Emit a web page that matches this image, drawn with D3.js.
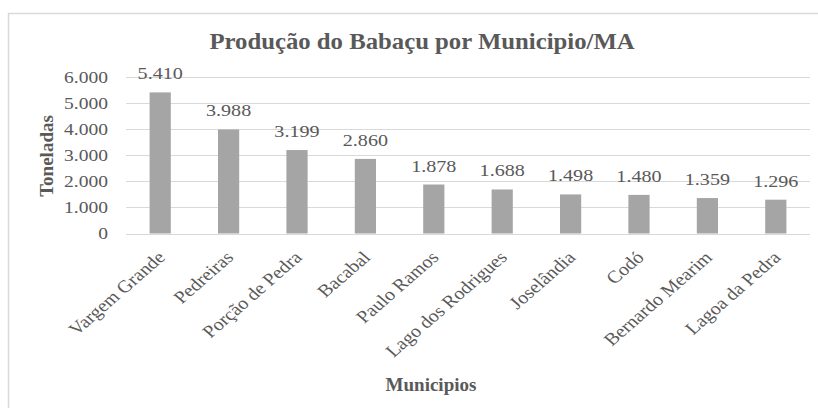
<!DOCTYPE html>
<html><head><meta charset="utf-8">
<script src="https://cdn.jsdelivr.net/npm/d3@7"></script>
<style>body{margin:0;background:#fff}svg{display:block}</style>
</head><body>
<svg id="c" width="818" height="408"></svg>
<script>
const categories = ["Vargem Grande","Pedreiras","Porção de Pedra","Bacabal","Paulo Ramos","Lago dos Rodrigues","Joselândia","Codó","Bernardo Mearim","Lagoa da Pedra"];
const values = [5410,3988,3199,2860,1878,1688,1498,1480,1359,1296];
const yTicks = [0,1000,2000,3000,4000,5000,6000];
const title = "Produção do Babaçu por Municipio/MA";
const xTitle = "Municipios";
const yTitle = "Toneladas";

const FF = "'Liberation Serif', 'Times New Roman', serif";
const SX = 1.22;
const svg = d3.select("#c");
const txt = "#595959";
const fmt = d => d3.format(",")(d).replace(/,/g, ".");

svg.append("rect").attr("x",8.5).attr("y",13.5).attr("width",830).attr("height",420)
  .attr("fill","#fff").attr("stroke","#d9d9d9").attr("stroke-width",1.5);

const x = d3.scaleBand().domain(categories).range([126, 810]).paddingInner(0.69).paddingOuter(0.345);
const y = d3.scaleLinear().domain([0,6000]).range([233.5, 77]);

// grid
svg.append("g").selectAll("line").data(yTicks).join("line")
  .attr("x1",126).attr("x2",810).attr("y1",d=>Math.round(y(d))+0.5).attr("y2",d=>Math.round(y(d))+0.5)
  .attr("stroke","#d9d9d9").attr("stroke-width",1);

// y axis labels
const yAxis = d3.axisLeft(y).tickValues(yTicks).tickFormat(fmt).tickSize(0).tickPadding(0);
const ga = svg.append("g").attr("transform","translate(108,0)").call(yAxis);
ga.select(".domain").remove();
ga.selectAll("text").style("font-family",FF).attr("font-size",16).attr("fill",txt)
  .attr("x",0).attr("dy",null).attr("y",5).attr("transform",`scale(${SX},1)`);

// bars
svg.append("g").selectAll("rect").data(values).join("rect")
  .attr("x",(d,i)=>x(categories[i])).attr("width",x.bandwidth())
  .attr("y",d=>y(d)).attr("height",d=>y(0)-y(d)).attr("fill","#a5a5a5");

// data labels
svg.append("g").selectAll("text").data(values).join("text")
  .attr("transform",(d,i)=>`translate(${x(categories[i])+x.bandwidth()/2},${y(d)-13}) scale(${SX},1)`)
  .attr("text-anchor","middle").style("font-family",FF).attr("font-size",16.5).attr("fill",txt).text(fmt);

// x axis labels
const xAxis = d3.axisBottom(x).tickSize(0).tickPadding(0);
const gx = svg.append("g").attr("transform",`translate(0,${y(0)})`).call(xAxis);
gx.select(".domain").remove();
gx.selectAll("text").style("font-family",FF).attr("font-size",17.5).attr("fill",txt)
  .attr("text-anchor","end").attr("dy",null).attr("y",0)
  .attr("transform",`translate(6,25) scale(1.15,1) rotate(-45)`);

// titles
svg.append("text").attr("transform","translate(422,49) scale(1.1,1)").attr("text-anchor","middle").style("font-family",FF)
  .attr("font-size",22.5).attr("font-weight","bold").attr("fill",txt).text(title);
svg.append("text").attr("x",431).attr("y",391).attr("text-anchor","middle").style("font-family",FF)
  .attr("font-size",19).attr("font-weight","bold").attr("fill",txt).text(xTitle);
svg.append("text").attr("transform","translate(53,156) rotate(-90)").attr("text-anchor","middle").style("font-family",FF)
  .attr("font-size",19).attr("font-weight","bold").attr("fill",txt).text(yTitle);
</script>
</body></html>
